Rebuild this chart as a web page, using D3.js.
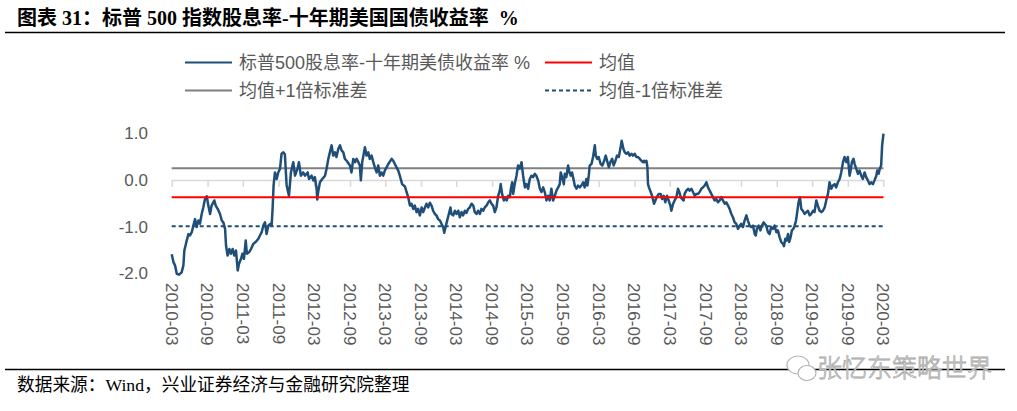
<!DOCTYPE html>
<html>
<head>
<meta charset="utf-8">
<script src="https://cdn.jsdelivr.net/npm/d3@7"></script>
<style>
  body { margin: 0; background: #fff; }
  svg text { white-space: pre; }
</style>
</head>
<body>
<svg id="chart" width="1017" height="411"></svg>
<script>
// spread = S&P500 dividend yield minus 10y UST yield (%)
// dates are kept as day offsets from 2010-03-01
const startDate = Date.UTC(2010, 2, 1);
const endDate = Date.UTC(2020, 2, 1);

const dayOffsets = [
  0, 9, 17, 26, 38, 51, 60, 65, 77, 86, 94, 103, 111, 120, 128, 137, 145, 154, 162, 171,
  180, 188, 197, 205, 219, 226, 236, 248, 257, 265, 274, 279, 287, 296, 304, 313, 321, 330, 339, 345,
  356, 363, 371, 380, 386, 397, 407, 419, 431, 445, 453, 462, 470, 479, 487, 496, 506, 513, 518, 523,
  530, 539, 547, 556, 564, 573, 581,
  590, 602, 612, 624, 633, 646, 653, 663, 675, 684, 698, 705, 718, 727, 735, 744, 747, 752, 761, 773,
  787, 795, 804, 812, 821, 829, 838, 846, 855, 864, 872, 881, 889, 898, 915, 923, 932, 941, 949, 958,
  966, 971, 978, 987, 992, 1000, 1009, 1017, 1026, 1035, 1043, 1052, 1060, 1069, 1077, 1086, 1094, 1112, 1129, 1137,
  1149, 1163, 1171, 1183,
  1197, 1206, 1214, 1223, 1231, 1240, 1248, 1257, 1265, 1274, 1283, 1291, 1300, 1308, 1317, 1325, 1334, 1342, 1351, 1359,
  1368, 1377, 1385, 1394, 1399, 1406, 1416, 1424, 1431, 1436, 1445, 1454, 1462, 1471, 1479, 1488, 1496, 1505, 1513, 1522,
  1530, 1539, 1548, 1556, 1565, 1573, 1582, 1590, 1599, 1607, 1616, 1625, 1633, 1642, 1650, 1659, 1667, 1676, 1684, 1689,
  1696, 1705, 1713, 1720, 1727, 1736, 1741, 1748, 1753, 1761, 1770, 1778, 1787, 1796, 1804,
  1813, 1821, 1830, 1838, 1847, 1855, 1864, 1872, 1881, 1890, 1898, 1907, 1915, 1924, 1932, 1941, 1949, 1958, 1967, 1975,
  1984, 1992, 1997, 2004, 2013, 2018, 2026, 2035, 2042, 2049, 2055, 2064, 2069, 2078, 2086, 2095, 2103, 2112, 2120, 2129,
  2134, 2141, 2146, 2155, 2163, 2172, 2177, 2185, 2192, 2202, 2211, 2220, 2228, 2237, 2244, 2252, 2261, 2269, 2278, 2286,
  2295, 2303, 2310, 2319, 2326, 2334, 2343, 2351, 2360, 2368, 2377, 2385, 2394, 2403, 2411, 2420, 2425,
  2428, 2437, 2442, 2445, 2450, 2459, 2466, 2476, 2483, 2490, 2500, 2510, 2517, 2526, 2534, 2543, 2551, 2560, 2565, 2574,
  2582, 2591, 2599, 2606, 2613, 2620, 2628, 2633, 2642, 2651, 2659, 2668, 2676, 2685, 2693, 2702, 2710, 2719, 2727, 2736,
  2745, 2753, 2762, 2770, 2779, 2787, 2796, 2804, 2813, 2822, 2830, 2839, 2847, 2856, 2864, 2873, 2881, 2890, 2898, 2907,
  2916, 2924, 2933, 2941, 2950, 2958, 2967, 2975, 2984, 2993, 2998, 3004, 3013, 3022, 3030, 3039,
  3052, 3061, 3069, 3078, 3087, 3095, 3104, 3112, 3121, 3129, 3138, 3143, 3150, 3157, 3164, 3170, 3177, 3184, 3191, 3198,
  3205, 3211, 3218, 3225, 3232, 3240, 3249, 3258, 3266, 3275, 3283, 3292, 3300, 3309, 3317, 3326, 3335, 3343, 3352, 3360,
  3369, 3377, 3386, 3394, 3403, 3411, 3420, 3429, 3437, 3446, 3454, 3463, 3471, 3480, 3485, 3492, 3500, 3506, 3514, 3523,
  3531, 3540, 3548, 3557, 3565, 3574, 3582, 3591, 3600, 3608, 3617, 3622, 3629, 3635, 3642, 3647, 3654
];

const spread = [
  -1.59, -1.76, -1.83, -2.01, -2.03, -1.98, -1.83, -1.51, -1.30, -1.16, -1.19, -1.12, -0.98, -0.84, -1.01, -0.87, -0.94, -0.73, -0.59, -0.41,
  -0.35, -0.55, -0.73, -0.55, -0.44, -0.55, -0.62, -0.73, -0.87, -0.91, -1.05, -1.41, -1.62, -1.48, -1.58, -1.48, -1.62, -1.51, -1.94, -1.80,
  -1.69, -1.58, -1.69, -1.30, -1.58, -1.55, -1.48, -1.37, -1.33, -1.26, -1.19, -1.12, -0.98, -0.91, -1.16, -0.98, -0.94, -0.98, -0.62, -0.12,
  0.16, 0.02, 0.16, 0.24, 0.56, 0.59, 0.55,
  -0.12, -0.34, 0.16, 0.38, 0.09, 0.24, 0.38, 0.09, 0.16, 0.09, 0.16, 0.02, 0.09, -0.01, 0.06, -0.19, -0.42, -0.26, -0.05, 0.02,
  0.09, 0.24, 0.45, 0.59, 0.74, 0.52, 0.59, 0.49, 0.66, 0.74, 0.63, 0.59, 0.45, 0.41, 0.31, 0.16, 0.45, 0.38, 0.45, 0.38,
  0.31, -0.01, 0.38, 0.59, 0.70, 0.52, 0.59, 0.45, 0.52, 0.38, 0.27, 0.16, 0.31, 0.09, 0.16, 0.09, 0.20, 0.34, 0.45, 0.41,
  0.31, 0.20, 0.09, -0.09,
  -0.14, -0.26, -0.37, -0.55, -0.51, -0.62, -0.55, -0.69, -0.62, -0.76, -0.59, -0.69, -0.59, -0.51, -0.59, -0.49, -0.55, -0.66, -0.73, -0.76,
  -0.84, -0.87, -0.94, -1.01, -1.13, -1.01, -0.84, -0.71, -0.59, -0.73, -0.76, -0.66, -0.73, -0.66, -0.80, -0.69, -0.76, -0.66, -0.71, -0.62,
  -0.59, -0.51, -0.55, -0.69, -0.73, -0.66, -0.73, -0.62, -0.66, -0.59, -0.55, -0.48, -0.44, -0.51, -0.55, -0.69, -0.59, -0.34, -0.23, -0.09,
  -0.30, -0.44, -0.37, -0.44, -0.34, -0.37, -0.19, -0.05, -0.30, -0.09, 0.09, 0.31, 0.24, 0.38, 0.09,
  -0.16, -0.09, -0.19, 0.02, 0.09, 0.06, 0.13, 0.09, -0.01, -0.19, -0.26, -0.16, -0.26, -0.44, -0.34, -0.44, -0.19, -0.44, -0.34, -0.23,
  -0.16, -0.09, 0.16, 0.06, -0.09, 0.13, 0.06, 0.31, 0.16, 0.09, 0.16, -0.01, -0.12, -0.19, -0.12, -0.16, -0.12, -0.05, -0.16, 0.02,
  -0.12, 0.09, 0.31, 0.34, 0.49, 0.74, 0.52, 0.45, 0.49, 0.34, 0.31, 0.41, 0.52, 0.38, 0.27, 0.38, 0.45, 0.31, 0.41, 0.52,
  0.49, 0.66, 0.84, 0.66, 0.59, 0.56, 0.59, 0.52, 0.56, 0.52, 0.56, 0.49, 0.49, 0.45, 0.41, 0.38, 0.41,
  0.38, 0.41, 0.27, -0.09, -0.16, -0.26, -0.34, -0.51, -0.44, -0.37, -0.30, -0.30, -0.41, -0.34, -0.48, -0.34, -0.44, -0.55, -0.66, -0.51,
  -0.44, -0.37, -0.19, -0.26, -0.37, -0.41, -0.44, -0.30, -0.23, -0.19, -0.23, -0.19, -0.26, -0.34, -0.30, -0.30, -0.26, -0.19, -0.16, -0.12,
  -0.05, -0.16, -0.23, -0.30, -0.37, -0.44, -0.41, -0.48, -0.44, -0.37, -0.44, -0.51, -0.48, -0.55, -0.62, -0.73, -0.80, -0.91, -0.94, -1.05,
  -0.98, -0.94, -1.01, -0.87, -0.76, -0.87, -0.98, -1.01, -0.98, -1.16, -1.19, -1.05, -0.98, -1.08, -0.98, -0.91,
  -0.98, -1.12, -1.16, -1.01, -1.05, -0.98, -1.12, -1.08, -1.23, -1.33, -1.37, -1.42, -1.26, -1.30, -1.16, -1.33, -1.23, -1.08, -1.05, -0.98,
  -0.87, -0.69, -0.48, -0.37, -0.62, -0.66, -0.73, -0.69, -0.66, -0.76, -0.73, -0.66, -0.69, -0.44, -0.55, -0.66, -0.69, -0.66, -0.59, -0.44,
  -0.30, -0.05, -0.19, -0.12, -0.09, -0.16, -0.05, 0.02, 0.16, 0.38, 0.49, 0.38, 0.49, 0.09, 0.20, 0.38, 0.45, 0.34, 0.24, 0.13,
  0.20, 0.09, 0.02, 0.16, 0.06, -0.01, -0.09, -0.05, -0.09, -0.01, 0.09, 0.20, 0.13, 0.24, 0.31, 0.74, 0.99
];

// reference lines (mean, mean +/- 1 std)
const meanValue = -0.37;
const upperBand = 0.25;
const lowerBand = -0.99;

const yTicks = [1.0, 0.0, -1.0, -2.0];

const titleText = "图表 31：标普 500 指数股息率-十年期美国国债收益率  %";
const sourceText = "数据来源：Wind，兴业证券经济与金融研究院整理";
const watermarkText = "张忆东策略世界";

const seriesName = "标普500股息率-十年期美债收益率 %";
const meanName = "均值";
const upperName = "均值+1倍标准差";
const lowerName = "均值-1倍标准差";

const blue = "#1f4e79";
const red = "#ff0000";
const grey = "#808080";
const labelColor = "#595959";

const data = dayOffsets.map(function(d, i) {
  return { date: d3.utcDay.offset(new Date(startDate), d), value: spread[i] };
});

const svg = d3.select("#chart");

const xScale = d3.scaleUtc()
  .domain([new Date(startDate), new Date(endDate)])
  .range([171.7, 883.3]);

const yScale = d3.scaleLinear()
  .domain([-2, 1])
  .range([273.3, 133.2]);

// title + rules
svg.append("text")
  .attr("x", 17)
  .attr("y", 25)
  .text(titleText)
  .style("font-family", "'Liberation Serif', 'Noto Sans CJK SC', serif")
  .style("font-weight", "bold")
  .style("font-size", "20px")
  .style("fill", "#000");

svg.append("line")
  .attr("x1", 5).attr("x2", 1005)
  .attr("y1", 32.5).attr("y2", 32.5)
  .attr("stroke", "#000")
  .attr("stroke-width", 1.3);

svg.append("line")
  .attr("x1", 5).attr("x2", 1005)
  .attr("y1", 369.5).attr("y2", 369.5)
  .attr("stroke", "#000")
  .attr("stroke-width", 1.3);

svg.append("text")
  .attr("x", 17)
  .attr("y", 391)
  .text(sourceText)
  .style("font-family", "'Liberation Serif', 'Noto Sans CJK SC', serif")
  .style("font-size", "17.7px")
  .style("fill", "#000");

// legend
const legendItems = [
  { name: seriesName, color: blue, dash: null, x: 185, y: 62.5 },
  { name: meanName, color: red, dash: null, x: 545, y: 62.5 },
  { name: upperName, color: grey, dash: null, x: 185, y: 90.5 },
  { name: lowerName, color: blue, dash: "4,3", x: 545, y: 90.5 }
];

const legend = svg.append("g").attr("class", "legend");
legendItems.forEach(function(item) {
  legend.append("line")
    .attr("x1", item.x).attr("x2", item.x + 47)
    .attr("y1", item.y).attr("y2", item.y)
    .attr("stroke", item.color)
    .attr("stroke-width", 2)
    .attr("stroke-dasharray", item.dash);
  legend.append("text")
    .attr("x", item.x + 54)
    .attr("y", item.y)
    .attr("dy", "0.36em")
    .text(item.name)
    .style("font-family", "'Liberation Sans', 'Noto Sans CJK SC', sans-serif")
    .style("font-size", "18px")
    .style("fill", labelColor);
});

// y axis labels (no axis line), plain hyphen for negatives like the source
const formatY = function(d) { return d3.format(".1f")(d).replace("−", "-"); };
svg.append("g")
  .selectAll("text")
  .data(yTicks).enter()
  .append("text")
  .attr("x", 148)
  .attr("y", function(d) { return yScale(d); })
  .attr("dy", "0.36em")
  .attr("text-anchor", "end")
  .text(formatY)
  .style("font-family", "'Liberation Sans', Arial, sans-serif")
  .style("font-size", "17px")
  .style("fill", labelColor);

// x axis sits on zero, labels at the bottom; every 6 months from 2010-03
const xTicks = d3.utcMonth.range(new Date(startDate), d3.utcDay.offset(new Date(endDate), 1), 6);
const formatTick = d3.utcFormat("%Y-%m");

const xAxis = svg.append("g")
  .attr("transform", "translate(0," + yScale(0) + ")")
  .call(d3.axisBottom(xScale).tickValues(xTicks).tickSize(7).tickSizeOuter(0).tickFormat(""));
xAxis.select(".domain").attr("stroke", "#d9d9d9").attr("stroke-width", 1.5);
xAxis.selectAll(".tick line").attr("stroke", "#d9d9d9").attr("stroke-width", 1.5);

svg.append("g")
  .selectAll("text")
  .data(xTicks).enter()
  .append("text")
  .attr("transform", function(d) { return "translate(" + xScale(d) + ",283) rotate(90)"; })
  .attr("dy", "0.36em")
  .text(formatTick)
  .style("font-family", "'Liberation Sans', Arial, sans-serif")
  .style("font-size", "17px")
  .style("fill", labelColor);

// horizontal reference lines over the data span
const first = data[0].date, last = data[data.length - 1].date;
function refLine(value, color, dash) {
  svg.append("line")
    .attr("x1", xScale(first)).attr("x2", xScale(last))
    .attr("y1", yScale(value)).attr("y2", yScale(value))
    .attr("stroke", color)
    .attr("stroke-width", 2)
    .attr("stroke-dasharray", dash);
}
refLine(upperBand, grey, null);

// series
svg.append("path")
  .datum(data)
  .attr("fill", "none")
  .attr("stroke", blue)
  .attr("stroke-width", 2.5)
  .attr("stroke-linejoin", "round")
  .attr("d", d3.line()
    .x(function(d) { return xScale(d.date); })
    .y(function(d) { return yScale(d.value); }));

refLine(meanValue, red, null);
refLine(lowerBand, blue, "4,3");

// watermark
const wm = svg.append("g").attr("class", "watermark");
wm.append("ellipse")
  .attr("cx", 798).attr("cy", 365).attr("rx", 11).attr("ry", 9)
  .attr("fill", "#fff").attr("stroke", "#b5b5b5").attr("stroke-width", 1.2);
wm.append("ellipse")
  .attr("cx", 807).attr("cy", 373).attr("rx", 9).attr("ry", 7.5)
  .attr("fill", "#fff").attr("stroke", "#b5b5b5").attr("stroke-width", 1.2);
wm.append("text")
  .attr("x", 817)
  .attr("y", 377)
  .text(watermarkText)
  .style("font-family", "'Noto Sans CJK SC', sans-serif")
  .style("font-size", "25px")
  .style("font-weight", "300")
  .style("fill", "#fff")
  .style("stroke", "#a8a8a8")
  .style("stroke-width", 0.8);
</script>
</body>
</html>
